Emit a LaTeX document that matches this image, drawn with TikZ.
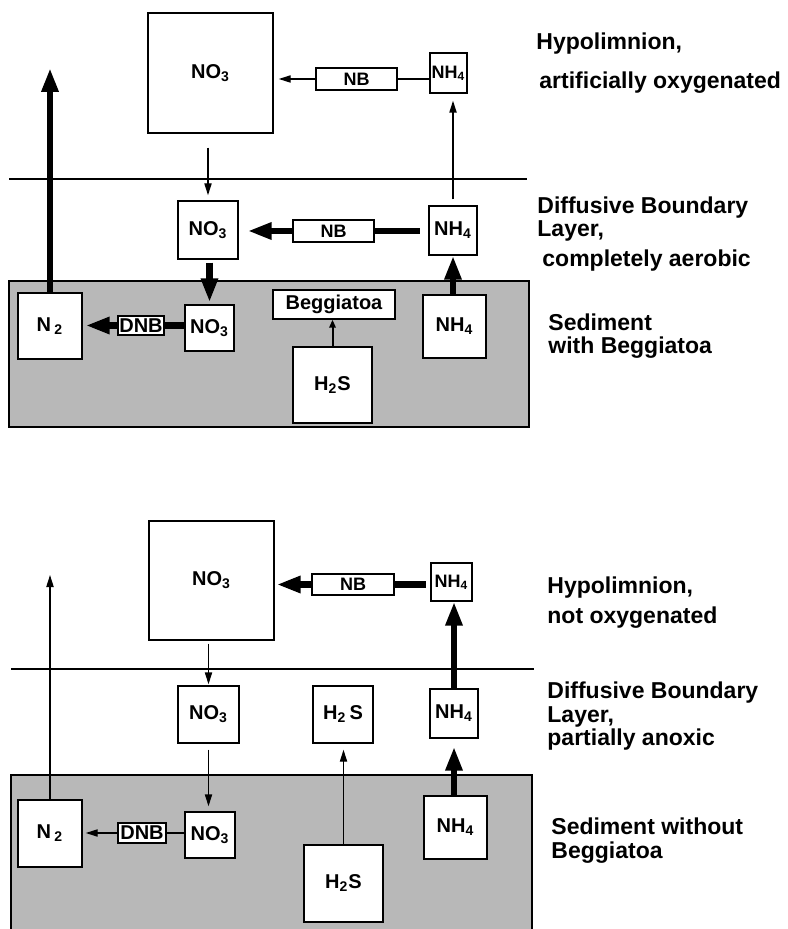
\documentclass[tikz,border=0pt]{standalone}
\usepackage{fontspec}
\setmainfont{Liberation Sans}
\usetikzlibrary{arrows.meta,positioning}

\begin{document}
\begin{tikzpicture}[
      x=0.5pt, y=-0.5pt,
      box/.style={rectangle, draw, line width=0.7pt, fill=white, inner sep=1pt, font=\fontsize{10}{11}\selectfont\bfseries},
      sz/.style 2 args={minimum width=#1*0.5pt, minimum height=#2*0.5pt},
      lbl/.style={anchor=base west, inner sep=0pt, font=\fontsize{11.5}{13}\selectfont\bfseries},
      sed/.style={fill=black!28, draw=none},
      thk/.style={line width=3.2pt, -{Triangle[length=12pt,width=8pt]}},
      thkline/.style={line width=3.2pt},
      thn/.style={line width=0.7pt, -{Triangle[length=6pt,width=3.6pt]}},
      mid/.style={line width=1pt, -{Triangle[length=4pt,width=3.2pt]}},
    ]
    \useasboundingbox (0,0) rectangle (787,929);

    % upper panel: artificially oxygenated
    \fill[sed] (9,281) rectangle (529,427);
    \draw[line width=0.7pt] (9,281) rectangle (529,427);
    \draw[line width=0.6pt] (9,179) -- (527,179);

    \node[box, sz={125}{120}] (no3a) at (210.5,73) {NO\textsubscript{3}};
    \node[box, sz={81}{22}, font=\fontsize{9}{10}\selectfont\bfseries] (nbt) at (356.5,79) {NB};
    \node[box, sz={37}{40}, inner sep=0pt, font=\fontsize{9}{10}\selectfont\bfseries] (nh4t) at (448.5,73) {NH\textsubscript{4}};
    \node[box, sz={60}{58}] (no3b) at (208,230) {NO\textsubscript{3}};
    \node[box, sz={81}{22}, font=\fontsize{9}{10}\selectfont\bfseries] (nbm) at (333.5,231) {NB};
    \node[box, sz={48}{49}] (nh4m) at (453,230.5) {NH\textsubscript{4}};
    \node[box, sz={64}{66}] (n2a) at (50,326) {N\,\textsubscript{2}};
    \node[box, sz={49}{46}] (no3c) at (209.5,328) {NO\textsubscript{3}};
    \node[box, sz={46}{19}, inner sep=0.5pt] (dnba) at (141,325.5) {DNB};
    \node[box, sz={122}{29}] (begg) at (334,304.5) {Beggiatoa};
    \node[box, sz={79}{76}] (h2sa) at (332.5,385) {H\textsubscript{2}S};
    \node[box, sz={63}{63}] (nh4s) at (454.5,326.5) {NH\textsubscript{4}};
    \coordinate (n2aout) at (50,68);

    \draw[thk] (n2a.north) -- (n2aout);
    \draw[thn, shorten >=2.5pt] (nbt.west) -- (nbt.west -| no3a.east);
    \draw[line width=0.7pt] (nbt.east) -- (nbt.east -| nh4t.west);
    \draw[thn, shorten <=7pt, shorten >=2.5pt] (no3b.north |- no3a.south) -- (no3b.north);
    \draw[thk, shorten >=4.5pt] (nbm.west) -- (nbm.west -| no3b.east);
    \draw[thkline, shorten >=4pt] (nbm.east) -- (nbm.east -| nh4m.west);
    \draw[thn, shorten <=3pt, shorten >=3.5pt] (nh4m.north) -- (nh4m.north |- nh4t.south);
    \draw[thk, shorten <=1.5pt, shorten >=1pt] (no3c.north |- no3b.south) -- (no3c.north);
    \draw[thkline] (dnba.east) -- (dnba.east -| no3c.west);
    \draw[thk, shorten >=1.5pt] (dnba.west) -- (dnba.west -| n2a.east);
    \draw[mid] (h2sa.north) -- (h2sa.north |- begg.south);
    \draw[thk] (nh4m.south |- nh4s.north) -- (nh4m.south);

    \node[lbl] (hypa) at (536,50) {Hypolimnion,};
    \node[lbl] (hypb) at (539,89) {artificially oxygenated};
    \node[lbl] (dbla) at (537,214) {Diffusive Boundary};
    \node[lbl] (dblb) at (537,237) {Layer,};
    \node[lbl] (dblc) at (542,267) {completely aerobic};
    \node[lbl] (seda) at (548,331) {Sediment};
    \node[lbl] (sedb) at (548,354) {with Beggiatoa};

    % lower panel: not oxygenated
    \fill[sed] (11,775) rectangle (532,929);
    \draw[line width=0.7pt] (11,929) -- (11,775) -- (532,775) -- (532,929);
    \draw[line width=0.6pt] (11,669) -- (534,669);

    \node[box, sz={125}{119}] (no3d) at (211.5,580.5) {NO\textsubscript{3}};
    \node[box, sz={82}{21}, font=\fontsize{9}{10}\selectfont\bfseries] (nbb) at (353,584.5) {NB};
    \node[box, sz={41}{38}, inner sep=0pt, font=\fontsize{9}{10}\selectfont\bfseries] (nh4u) at (451.5,582) {NH\textsubscript{4}};
    \node[box, sz={61}{57}] (no3e) at (208.5,714.5) {NO\textsubscript{3}};
    \node[box, sz={60}{57}] (h2sm) at (343,714.5) {H\textsubscript{2}\,S};
    \node[box, sz={48}{49}] (nh4v) at (454,713.5) {NH\textsubscript{4}};
    \node[box, sz={64}{67}] (n2b) at (50,833.5) {N\,\textsubscript{2}};
    \node[box, sz={50}{46}] (no3f) at (210,835) {NO\textsubscript{3}};
    \node[box, sz={48}{20}, inner sep=0.5pt] (dnbb) at (142,833) {DNB};
    \node[box, sz={79}{77}] (h2sb) at (343.5,883.5) {H\textsubscript{2}S};
    \node[box, sz={63}{63}] (nh4w) at (455.5,827.5) {NH\textsubscript{4}};
    \coordinate (n2bout) at (50,575);

    \draw[thn] (n2b.north) -- (n2bout);
    \draw[thk, shorten >=1pt] (nbb.west) -- (nbb.west -| no3d.east);
    \draw[thkline, shorten >=2pt] (nbb.east) -- (nbb.east -| nh4u.west);
    \draw[thn, shorten <=1.5pt, shorten >=0.5pt] (no3e.north |- no3d.south) -- (no3e.north);
    \draw[thk] (nh4v.north) -- (nh4v.north |- nh4u.south);
    \draw[thn, shorten <=3pt, shorten >=2.5pt] (no3e.south) -- (no3e.south |- no3f.north);
    \draw[line width=0.7pt] (dnbb.east) -- (dnbb.east -| no3f.west);
    \draw[thn, shorten >=1.5pt] (dnbb.west) -- (dnbb.west -| n2b.east);
    \draw[thn, shorten >=3pt] (h2sb.north) -- (h2sb.north |- h2sm.south);
    \draw[thk, shorten >=4pt] (nh4v.south |- nh4w.north) -- (nh4v.south);

    \node[lbl] (hypc) at (547,593) {Hypolimnion,};
    \node[lbl] (hypd) at (547,623) {not oxygenated};
    \node[lbl] (dbld) at (547,698) {Diffusive Boundary};
    \node[lbl] (dble) at (547,722) {Layer,};
    \node[lbl] (dblf) at (547,745) {partially anoxic};
    \node[lbl] (sedc) at (551,834) {Sediment without};
    \node[lbl] (sedd) at (551,858) {Beggiatoa};
  \end{tikzpicture}
\end{document}
